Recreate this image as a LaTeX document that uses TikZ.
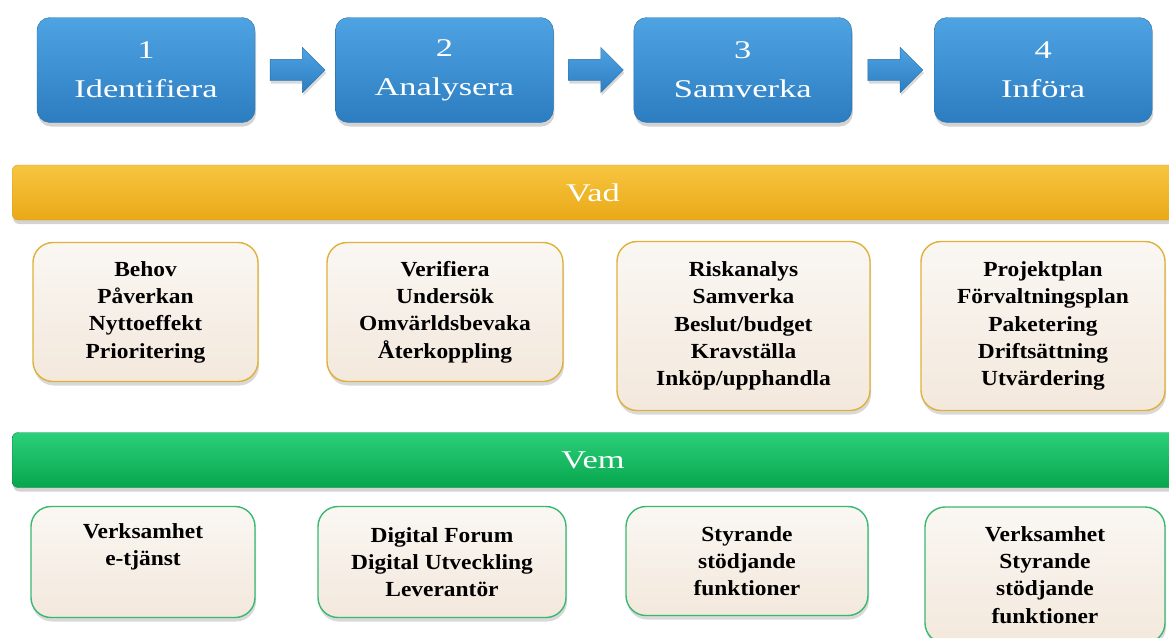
\documentclass[tikz,border=0pt]{standalone}
\usepackage{fontspec}
\setmainfont{Liberation Serif}
\newfontfamily\headfont{Liberation Serif}[FakeStretch=1.35]
\newfontfamily\itemfont{Liberation Serif}[FakeStretch=1.09]
\usetikzlibrary{shapes.arrows,shadows,positioning}

\definecolor{stagetop}{HTML}{4EA3E3}
\definecolor{stagebot}{HTML}{2C7DC0}
\definecolor{stageline}{HTML}{2A6FA8}
\definecolor{vadtop}{HTML}{F8C540}
\definecolor{vadbot}{HTML}{E9A918}
\definecolor{vadline}{HTML}{D9A21C}
\definecolor{vemtop}{HTML}{2BD07A}
\definecolor{vembot}{HTML}{07A64D}
\definecolor{vemline}{HTML}{0A8E45}
\definecolor{itemtop}{HTML}{FAF7F3}
\definecolor{itembot}{HTML}{F3E8DC}

\begin{document}
\begin{tikzpicture}[x=1pt,y=-1pt,
    every node/.style={align=center},
    stage/.style={rounded corners=13pt,draw=stageline,top color=stagetop,bottom color=stagebot,
                  text=white,minimum width=218pt,minimum height=105pt,
                  font=\headfont\fontsize{25.5}{39}\selectfont,
                  drop shadow={shadow xshift=1pt,shadow yshift=-4pt,opacity=0.35}},
    flowarrow/.style={single arrow,draw=stageline,top color=stagetop,bottom color=stagebot,
                      minimum height=55pt,inner xsep=0pt,inner ysep=10.5pt,
                      single arrow head extend=12pt,xshift=-3pt,
                      drop shadow={shadow xshift=1pt,shadow yshift=-3pt,opacity=0.3}},
    bar/.style={rounded corners=6pt,minimum width=1175pt,minimum height=55pt,
                drop shadow={shadow xshift=1pt,shadow yshift=-4pt,opacity=0.35}},
    bartext/.style={text=white,font=\headfont\fontsize{25.5}{30}\selectfont},
    item/.style={rounded corners=20pt,line width=1.4pt,top color=itemtop,bottom color=itembot,
                 font=\itemfont\bfseries\fontsize{21.5}{27.3}\selectfont,
                 drop shadow={shadow xshift=1pt,shadow yshift=-4pt,opacity=0.3}},
    whatbox/.style={item,draw=vadtop!90!black},
    whobox/.style={item,draw=vembot!80!white}]

\clip (0,0) rectangle (1169,637);
\useasboundingbox (0,0) rectangle (1169,637);

% steps
\node[stage] (s1) at (146,70) {1\\Identifiera};
\node[stage,right=80pt of s1] (s2) {2\\Analysera};
\node[stage,right=80pt of s2] (s3) {3\\Samverka};
\node[stage,right=82pt of s3] (s4) {4\\Införa};

\path (s1) -- node[flowarrow] (a1) {} (s2);
\path (s2) -- node[flowarrow] (a2) {} (s3);
\path (s3) -- node[flowarrow] (a3) {} (s4);

% vad
\node[bar,draw=vadline,top color=vadtop,bottom color=vadbot,anchor=west] (vad) at (12,192.5) {};
\node[bartext] (vadtext) at (593,192.5) {Vad};

\node[whatbox,minimum width=225pt,minimum height=139pt] (b1) at (145.5,312)
  {Behov\\Påverkan\\Nyttoeffekt\\Prioritering};
\node[whatbox,minimum width=236pt,minimum height=139pt] (b2) at (445,312)
  {Verifiera\\Undersök\\Omvärldsbevaka\\Återkoppling};
\node[whatbox,minimum width=253pt,minimum height=169pt] (b3) at (743.5,326)
  {Riskanalys\\Samverka\\Beslut/budget\\Kravställa\\Inköp/upphandla};
\node[whatbox,minimum width=244pt,minimum height=169pt] (b4) at (1043,326)
  {Projektplan\\Förvaltningsplan\\Paketering\\Driftsättning\\Utvärdering};

% vem
\node[bar,draw=vemline,top color=vemtop,bottom color=vembot,anchor=west] (vem) at (12,460) {};
\node[bartext] (vemtext) at (593,460) {Vem};

\node[whobox,minimum width=224pt,minimum height=111pt] (c1) at (143,562)
  {Verksamhet\\e-tjänst\\\strut};
\node[whobox,minimum width=248pt,minimum height=111pt] (c2) at (442,562)
  {Digital Forum\\Digital Utveckling\\Leverantör};
\node[whobox,minimum width=242pt,minimum height=109pt] (c3) at (747,561)
  {Styrande\\stödjande\\funktioner};
\node[whobox,minimum width=240pt,minimum height=136pt] (c4) at (1045,575)
  {Verksamhet\\Styrande\\stödjande\\funktioner};

\end{tikzpicture}
\end{document}
